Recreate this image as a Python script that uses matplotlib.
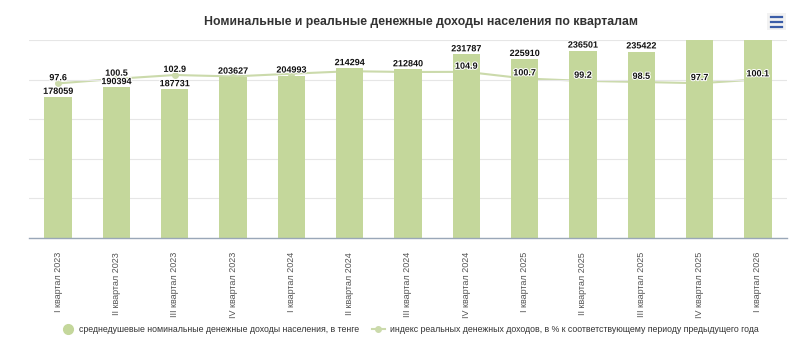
import matplotlib
matplotlib.use("Agg")
import matplotlib.pyplot as plt
from matplotlib.lines import Line2D
from matplotlib.patches import Rectangle
import matplotlib.patheffects as pe
import numpy as np

plt.rcParams['font.family'] = ['Liberation Sans', 'DejaVu Sans']

categories = ["I квартал 2023", "II квартал 2023", "III квартал 2023", "IV квартал 2023",
              "I квартал 2024", "II квартал 2024", "III квартал 2024", "IV квартал 2024",
              "I квартал 2025", "II квартал 2025", "III квартал 2025", "IV квартал 2025",
              "I квартал 2026"]
nominal_income = [178059, 190394, 187731, 203627, 204993, 214294, 212840, 231787,
                  225910, 236501, 235422, 262000, 256000]
real_index = [97.6, 100.5, 102.9, 102.0, 103.7, 105.3, 104.8, 104.9,
              100.7, 99.2, 98.5, 97.7, 100.1]
index_label_shown = [True, True, True, False, False, False, False, True,
                     True, True, True, True, True]

title = "Номинальные и реальные денежные доходы населения по кварталам"
legend_bar = "среднедушевые номинальные денежные доходы населения, в тенге"
legend_line = "индекс реальных денежных доходов, в % к соответствующему периоду предыдущего года"

bar_color = "#c4d79b"
line_color = "#cbdaab"

fig = plt.figure(figsize=(8, 3.41), dpi=100)
ax = fig.add_axes([29/800, 1 - 238/341, (787 - 29)/800, (238 - 40)/341])
x = np.arange(len(categories))

ax2 = ax.twinx()
ax2.set_ylim(0, 125)
ax2.set_xlim(-0.5, len(categories) - 0.5)
ax2.axis('off')
ax2.plot(x, real_index, color=line_color, linewidth=1.5, marker='o',
         markersize=4, markerfacecolor=line_color)

# bars drawn above the line
ax.set_zorder(ax2.get_zorder() + 1)
ax.patch.set_visible(False)

ymax = 250000
ax.set_ylim(0, ymax)
ax.set_xlim(-0.5, len(categories) - 0.5)
ax.set_yticks(np.arange(0, ymax + 1, 50000))
ax2.set_yticks(np.arange(0, 126, 25))
ax.grid(axis='y', color='#e6e6e6', linewidth=0.8)
ax2.grid(False)
ax.set_axisbelow(True)
ax.bar(x, nominal_income, width=0.47, color=bar_color, zorder=2)
for s in ['top', 'right', 'left']:
    ax.spines[s].set_visible(False)
ax.spines['bottom'].set_color('#9aa7b8')
ax.spines['bottom'].set_linewidth(1.0)
ax.tick_params(axis='y', left=False, right=False, labelleft=False, labelright=False)
ax.tick_params(axis='x', length=0, pad=10, labelsize=6.5, labelcolor='#555555')
ax.set_xticks(x)
ax.set_xticklabels(categories, rotation=90, va='top', ha='center')

outline = [pe.withStroke(linewidth=1.5, foreground='white')]
for xi, v in zip(x, nominal_income):
    if v <= ymax:
        ax.annotate(f"{v}", (xi, v), xytext=(0, 0.8), textcoords='offset points',
                    ha='center', va='bottom', fontsize=6.5, fontweight='bold',
                    color='#111111', path_effects=outline, zorder=6)

for xi, v, show in zip(x, real_index, index_label_shown):
    if show:
        ax.annotate(f"{v:.1f}", (xi, v), xycoords=ax2.transData,
                    xytext=(0, 0.8), textcoords='offset points',
                    ha='center', va='bottom', fontsize=6.5, fontweight='bold',
                    color='#111111', path_effects=outline, zorder=6)

fig.text(421/800, 1 - 22/341, title, ha='center', va='center',
         fontsize=8.8, fontweight='bold', color='#333333')

# menu icon
fig.patches.append(Rectangle((767/800, 1 - 30/341), 19/800, 17/341,
                             transform=fig.transFigure, facecolor='#f2f2f2',
                             edgecolor='none'))
for yy in (16.5, 21.5, 26.5):
    fig.lines.append(Line2D([771/800, 782/800], [1 - yy/341, 1 - yy/341],
                            transform=fig.transFigure, color='#3b5da8', linewidth=1.6))

handles = [Line2D([], [], linestyle='none', marker='o', markersize=7,
                  color=bar_color),
           Line2D([], [], color=line_color, linewidth=1.5, marker='o',
                  markersize=4)]
fig.legend(handles, [legend_bar, legend_line], loc='center',
           bbox_to_anchor=(410/800, 1 - 330/341), ncol=2, frameon=False,
           fontsize=6.3, labelcolor='#333333', handlelength=1.5,
           handletextpad=0.6, columnspacing=1.4)

fig.savefig("out.png", dpi=100, facecolor='white')
